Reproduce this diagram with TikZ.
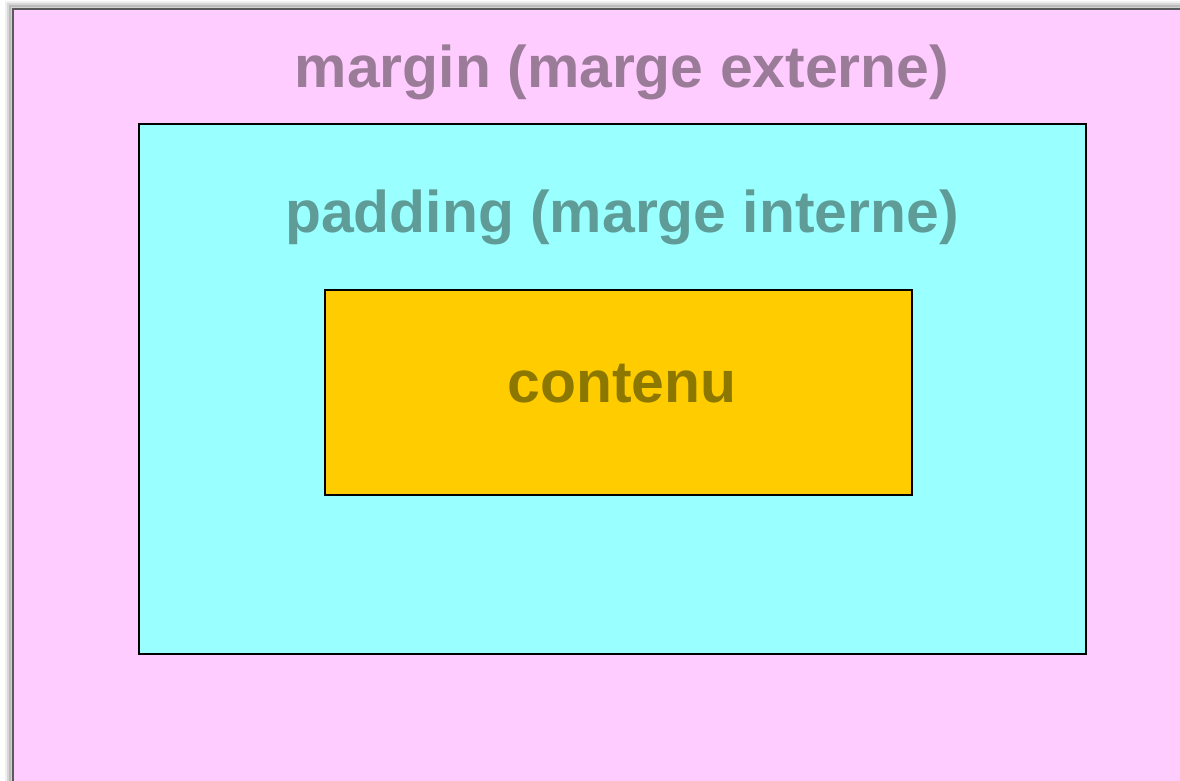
\documentclass[tikz,border=0pt]{standalone}
\usepackage{fontspec}
\setmainfont{Liberation Sans}
\usepackage{tikz}
\definecolor{marginfill}{HTML}{FFCCFF}
\definecolor{margintext}{HTML}{9A7B98}
\definecolor{paddingfill}{HTML}{99FFFF}
\definecolor{paddingtext}{HTML}{5F9C98}
\definecolor{contentfill}{HTML}{FFCC00}
\definecolor{contenttext}{HTML}{8C7800}
\tikzstyle{boxlabel} = [anchor=base, inner sep=0pt,
  font=\fontsize{33.5}{40}\selectfont\bfseries]
\tikzstyle{layer} = [draw=black, line width=0.7pt]

\begin{document}
\begin{tikzpicture}[x=0.02cm, y=-0.02cm]
  \useasboundingbox (0,0) rectangle (1180,781);
  \fill[white] (0,0) rectangle (1180,781);
  % soft shadow round the outer box
  \foreach \d/\o in {6/0.06, 4/0.10, 2/0.18}
    \draw[black, opacity=\o, line width=2pt] (13-\d,790) -- (13-\d,9-\d) -- (1190,9-\d);
  \fill[marginfill] (13,9) rectangle (1190,790);
  \draw[black!65, line width=1.4pt] (13,790) -- (13,9) -- (1190,9);

  \fill[paddingfill] (139,124) rectangle (1086,654);
  \draw[layer] (139,124) rectangle (1086,654);

  \fill[contentfill] (325,290) rectangle (912,495);
  \draw[layer] (325,290) rectangle (912,495);

  \node (margin) [boxlabel, text=margintext] at (622,87) {margin (marge externe)};
  \node (padding) [boxlabel, text=paddingtext] at (622,232) {padding (marge interne)};
  \node (content) [boxlabel, text=contenttext] at (622,402) {contenu};
\end{tikzpicture}
\end{document}
